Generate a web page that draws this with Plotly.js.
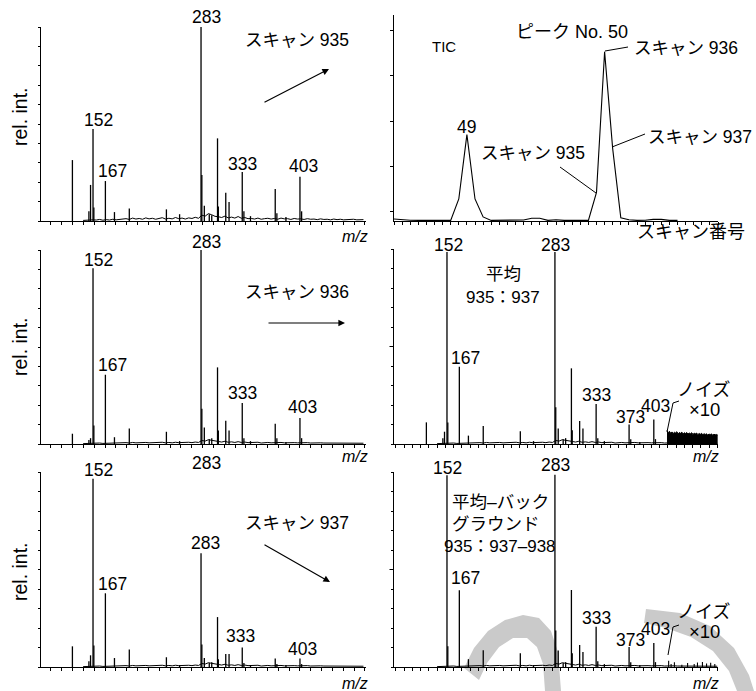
<!DOCTYPE html>
<html><head><meta charset="utf-8">
<script src="https://cdn.plot.ly/plotly-3.0.1.min.js"></script>
<style>html,body{margin:0;padding:0;background:#fff}#chart{width:756px;height:691px}</style>
</head><body><div id="chart"></div>
<script>
// ---------- data ----------
const mzPeaks = [127,147,149,152,153,167,178,196,241,257,283,284,287,293,296,303,304,313,317,333,335,343,373,375,386,403,405];
const scan935 = [31.4,5,18.6,47.4,7,20.6,4.6,6.5,6,3.5,100,23.7,7.9,3.5,3,42.6,7.5,14.6,9.8,25.3,5,2.5,16.5,4,2,22.8,5];
const scan936 = [5.3,2,3,90.6,9.6,35.7,3.5,8,6.3,1.5,100,18.2,8.5,2.5,3,39.5,7,12,7,21.1,3,1.5,10.5,3,1,13.4,3];
const scan937 = [10.6,3,6,96.6,11,37.8,4.6,9,5,1,58.3,11.6,4.6,2,2.5,25.6,4,6.7,6.7,10,2,1,4.3,1.5,1,4.4,1.5];
const avg935_937 = [11.1,3,6.3,98.5,11,39.6,4.3,9.2,6.5,1.5,98.5,18.8,8,2.5,3,38.8,7,11.8,8,20.5,3,1.5,10,2.5,1,12.6,2.5];
const avgMinusBg = [0,0,0,98.3,10.6,39.4,4,8.6,7,1,98.6,18.7,8.5,2,2.5,39.5,7,11.3,7.7,20.6,3,1.5,10.3,2.5,1,12.3,2.5];

// baseline noise, m/z 140..480 every 4
const noiseStart = 140, noiseStep = 4;
const noiseStrong = [0.3,0.5,0.4,0.6,0.5,0.8,0.4,0.7,0.5,0.9,0.6,0.8,1.0,
  1.2,0.8,1.5,1.0,1.3,0.9,1.6,1.1,1.4,0.9,1.2,1.7,1.0,1.4,1.1,1.8,1.2,1.5,1.0,1.6,1.3,1.9,1.4,
  3.0,2.5,3.8,3.2,2.4,
  2.2,1.8,2.5,1.6,2.0,1.5,2.3,1.4,1.8,1.2,
  1.3,1.0,1.5,0.9,1.2,1.4,1.0,1.3,0.9,1.5,1.1,1.2,0.8,1.3,1.0,
  1.1,0.8,1.2,0.9,1.0,0.7,1.1,0.8,0.9,0.6,1.0,0.7,0.9,0.6,0.8,0.7,0.9,0.6,0.8,0.7];
const noiseWeak = [0.2,0.3,0.2,0.4,0.3,0.5,0.3,0.4,0.3,0.5,0.4,0.5,0.6,
  0.7,0.5,0.8,0.6,0.7,0.5,0.8,0.6,0.7,0.5,0.6,0.9,0.6,0.8,0.6,0.9,0.7,0.8,0.6,0.9,0.7,1.0,0.8,
  1.8,1.5,2.2,1.9,1.4,
  1.3,1.0,1.4,0.9,1.1,0.8,1.2,0.8,1.0,0.7,
  0.8,0.6,0.9,0.5,0.7,0.8,0.6,0.7,0.5,0.8,0.6,0.7,0.5,0.7,0.6,
  0.7,0.5,0.7,0.5,0.6,0.4,0.6,0.5,0.5,0.4,0.6,0.4,0.5,0.4,0.5,0.4,0.5,0.4,0.5,0.4];

// noise x10 block (average spectrum), m/z 419.. every 1.5
const blockStart = 419, blockStep = 1.5;
const noiseX10 = [7.0,5.8,6.5,5.5,6.2,5.4,6.0,5.7,6.3,5.2,5.9,5.5,6.1,5.0,5.8,5.4,5.9,5.1,5.6,5.3,5.8,
  4.9,5.5,5.2,5.6,4.8,5.4,5.0,5.5,4.7,5.3,4.9,5.2,4.6,5.1,4.8,5.2,4.5,5.0,4.7,4.9,4.6];

// x10 tail peaks (average - background)
const tailMz = [421,424,428,437,444,452,456,462,467,472,477];
const tailH  = [3.2,1.5,2.5,1.2,2.0,1.6,2.3,2.6,1.8,2.2,1.6];

// TIC
const ticScans = [910,911,912,913,914,915,916,917,918,919,920,921,922,923,924,925,926,927,928,929,930,931,932,933,934,935,936,937,938,939,940,941,942,943,944,945];
const ticValues = [1.0,0.6,0.4,0.3,0.3,0.3,0.3,0.3,10.7,41.9,10.7,2.0,0.3,0.3,0.3,0.3,0.5,1.3,1.3,0.3,0.6,0.3,0.3,0.3,0.3,13.9,82.2,35,1.5,0.6,0.3,0.4,0.8,0.8,0.3,0.3];

// ---------- helpers ----------
const W = 756, H = 691;
const px = x => x / W, py = y => 1 - y / H;
function sticks(mz, h) {
  const x = [], y = [];
  mz.forEach((m, i) => { if (h[i] > 0) { x.push(m, m, null); y.push(0, h[i], null); } });
  return {x, y};
}
function grid(start, step, n) { return Array.from({length: n}, (_, i) => start + i * step); }

const traces = [];
function spectrum(xa, ya, h, noise) {
  traces.push({type:'scatter', mode:'lines', x: grid(noiseStart, noiseStep, noise.length), y: noise,
    xaxis: xa, yaxis: ya, line:{color:'#000', width:1}, hoverinfo:'skip'});
  const s = sticks(mzPeaks, h);
  traces.push({type:'scatter', mode:'lines', x: s.x, y: s.y, xaxis: xa, yaxis: ya,
    line:{color:'#000', width:1.3}, hoverinfo:'skip'});
}
spectrum('x', 'y', scan935, noiseStrong);
spectrum('x3', 'y3', scan936, noiseWeak);
spectrum('x5', 'y5', scan937, noiseWeak);
spectrum('x4', 'y4', avg935_937, noiseWeak);
spectrum('x6', 'y6', avgMinusBg, noiseWeak);
traces.push({type:'scatter', mode:'lines', x: grid(blockStart, blockStep, noiseX10.length), y: noiseX10,
  xaxis:'x4', yaxis:'y4', fill:'tozeroy', fillcolor:'#000', line:{color:'#000', width:1}, hoverinfo:'skip'});
const tl = sticks(tailMz, tailH);
traces.push({type:'scatter', mode:'lines', x: tl.x, y: tl.y, xaxis:'x6', yaxis:'y6', line:{color:'#000', width:1.1}, hoverinfo:'skip'});
traces.push({type:'scatter', mode:'lines', x: ticScans, y: ticValues, xaxis:'x2', yaxis:'y2',
  line:{color:'#000', width:1.1}, hoverinfo:'skip'});

function ax(domain, range, extra) {
  return Object.assign({domain, range, showline:true, linecolor:'#000', linewidth:1.2,
    ticks:'outside', ticklen:3, tickwidth:1, tickcolor:'#000', showticklabels:false,
    showgrid:false, zeroline:false, fixedrange:true}, extra);
}
const LX = [px(41), px(366)], RX = [px(394), px(718)];
const LR = [88.9, 483.1], RR = [87.7, 480.9];
const xl = {tickmode:'linear', tick0:101, dtick:13.13};
const xr = {tickmode:'linear', tick0:90, dtick:10};
const yl = {tickmode:'linear', tick0:0, dtick:10, ticklen:2};

const FONT = 'Liberation Sans, Arial, Noto Sans CJK JP, sans-serif';
const ann = [];
function T(text, x, y, size, extra) {
  ann.push(Object.assign({text, x: px(x), y: py(y), xref:'paper', yref:'paper', showarrow:false,
    xanchor:'center', yanchor:'middle', font:{family:FONT, size: size || 17.5, color:'#000'}}, extra));
}
function A(x0, y0, x1, y1) {
  ann.push({text:'', x: px(x1), y: py(y1), xref:'paper', yref:'paper', ax: x0 - x1, ay: y0 - y1,
    showarrow:true, arrowhead:2, arrowsize:1.1, arrowwidth:1.2, arrowcolor:'#000'});
}
// left top
T('283', 206, 17); T('スキャン 935', 297, 40); T('152', 98, 120); T('167', 112, 171);
T('333', 242, 164); T('403', 303, 166); T('rel. int.', 20, 117, 19.5, {textangle:-90});
T('<i>m/z</i>', 355, 236, 16); A(263, 103, 329, 69);
// right top
T('TIC', 444, 46, 15); T('ピーク No. 50', 572, 32, 18); T('スキャン 936', 686, 48);
T('49', 466, 127); T('スキャン 935', 533, 153); T('スキャン 937', 700, 137); T('スキャン番号', 691, 232, 18);
// left middle
T('152', 98, 260); T('283', 206, 242); T('スキャン 936', 297, 292); T('167', 112, 365);
T('333', 242, 393); T('403', 302, 407); T('rel. int.', 20, 347, 19.5, {textangle:-90});
T('<i>m/z</i>', 355, 457, 16); A(267, 323, 345, 323);
// right middle
T('152', 448, 245); T('283', 555, 245); T('平均', 503, 274, 17.5); T('935：937', 503, 297, 17);
T('167', 465, 358); T('333', 596, 395); T('373', 630, 417); T('403', 655, 406);
T('ノイズ', 703, 390, 18); T('×10', 704, 409, 18.5); T('<i>m/z</i>', 706, 457, 16);
// left bottom
T('283', 206, 463); T('152', 98, 470); T('スキャン 937', 297, 523); T('283', 205, 543);
T('167', 112, 584); T('333', 240, 636); T('403', 302, 649); T('rel. int.', 20, 572, 19.5, {textangle:-90});
T('<i>m/z</i>', 355, 683, 16); A(263, 544, 330, 582);
// right bottom
T('152', 447, 468); T('283', 555, 465); T('平均–バック', 500, 502, 17.5); T('グラウンド', 496, 524, 17.5);
T('935：937–938', 500, 546, 17); T('167', 465, 578); T('333', 596, 618); T('373', 630, 640);
T('403', 655, 629); T('ノイズ', 703, 612, 18); T('×10', 704, 631, 18.5); T('<i>m/z</i>', 706, 683, 16);

const shapes = [];
function L(pts) {
  for (let i = 0; i < pts.length - 1; i++)
    shapes.push({type:'line', xref:'paper', yref:'paper', x0: px(pts[i][0]), y0: py(pts[i][1]),
      x1: px(pts[i+1][0]), y1: py(pts[i+1][1]), line:{color:'#000', width:1}});
}
L([[605,51],[628,47]]); L([[560,167],[596,193]]); L([[612,147],[645,134]]);
L([[667,432],[673,403],[679,401]]); L([[668,655],[673,627],[679,625]]);
function G(pts) {
  let d = 'M ' + pts.map(p => px(p[0]).toFixed(4) + ',' + py(p[1]).toFixed(4)).join(' L ') + ' Z';
  shapes.push({type:'path', xref:'paper', yref:'paper', path:d, fillcolor:'#cacaca', line:{width:0}, layer:'below'});
}
G([[464,668],[474,648],[488,631],[505,620],[523,615],[539,618],[551,631],[558,652],[561,691],
   [545,691],[543,664],[537,647],[527,638],[513,638],[499,647],[487,663],[479,680]]);
G([[646,609],[680,613],[710,626],[734,648],[749,675],[754,691],[737,691],[729,671],[713,651],[691,637],[666,628],[644,623]]);
// longer 50% ticks on right spectra
['y4','y6'].forEach(yr => shapes.push({type:'line', xref:'paper', yref:yr, x0:px(389.5), x1:px(394), y0:50, y1:50, line:{color:'#000', width:1}}));

const layout = {
  width: W, height: H, margin:{l:0, r:0, t:0, b:0}, showlegend:false,
  paper_bgcolor:'#fff', plot_bgcolor:'rgba(0,0,0,0)',
  xaxis:  ax(LX, LR, Object.assign({anchor:'y'}, xl)),
  yaxis:  ax([py(221), py(27)], [0, 100], Object.assign({anchor:'x'}, yl)),
  xaxis2: ax(RX, [910, 950], {anchor:'y2', tickmode:'linear', tick0:910, dtick:1}),
  yaxis2: ax([py(221), py(15)], [0, 100], {anchor:'x2', tickmode:'array', tickvals:[4.5,26.5,48.5,70.5,92.5], ticklen:3}),
  xaxis3: ax(LX, LR, Object.assign({anchor:'y3'}, xl)),
  yaxis3: ax([py(444), py(250)], [0, 100], Object.assign({anchor:'x3'}, yl)),
  xaxis4: ax(RX, RR, Object.assign({anchor:'y4'}, xr)),
  yaxis4: ax([py(444), py(249)], [0, 100], Object.assign({anchor:'x4'}, yl)),
  xaxis5: ax(LX, LR, Object.assign({anchor:'y5'}, xl)),
  yaxis5: ax([py(667), py(472)], [0, 100], Object.assign({anchor:'x5'}, yl)),
  xaxis6: ax(RX, RR, Object.assign({anchor:'y6'}, xr)),
  yaxis6: ax([py(667), py(472)], [0, 100], Object.assign({anchor:'x6'}, yl)),
  annotations: ann, shapes: shapes
};
Plotly.newPlot('chart', traces, layout, {staticPlot:true, displayModeBar:false});
</script></body></html>
